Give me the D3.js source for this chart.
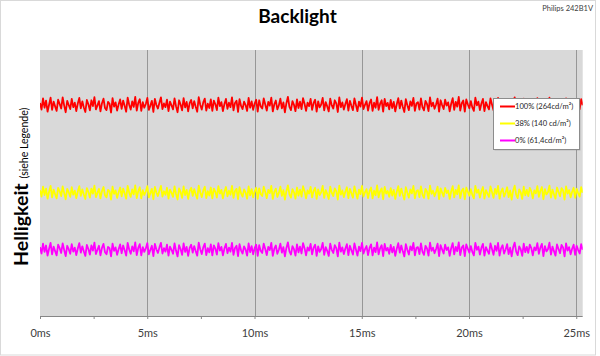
<!DOCTYPE html>
<html><head><meta charset="utf-8">
<script src="https://cdn.jsdelivr.net/npm/d3@7"></script>
<style>html,body{margin:0;padding:0;background:#fff;}svg{display:block;font-family:Lato,"Open Sans",sans-serif;}</style>
</head><body>
<svg id="c" width="600" height="356"></svg>
<script>
const chartTitle = "Backlight";
const modelLabel = "Philips 242B1V";
const yLabelMain = "Helligkeit";
const yLabelSub = "(siehe Legende)";
const xTickValues = [0, 5, 10, 15, 20, 25];
const xMinorTicks = [0, 2.5, 5, 7.5, 10, 12.5, 15, 17.5, 20, 22.5, 25];
const timeSpanMs = 25.3;
const seriesNames = ["100% (264cd/m²)", "38% (140 cd/m²)", "0% (61,4cd/m²)"];
const seriesColors = ["#ff0000", "#ffff00", "#ff00ff"];

const red = [
80.1,77.6,81.8,78.3,81.0,76.8,79.4,82.1,77.5,80.6,78.8,77.1,81.3,79.7,78.0,82.2,79.1,76.6,80.9,79.3,77.8,81.6,78.5,80.2,77.0,79.9,82.0,78.1,80.7,78.4,
76.7,81.2,79.6,77.3,81.1,78.9,82.3,77.7,79.2,80.8,76.9,80.0,81.7,78.2,77.4,80.5,79.8,76.5,81.9,78.7,80.3,77.2,79.5,81.4,77.9,81.0,79.0,76.8,82.1,79.4,
77.6,80.7,78.6,82.4,77.2,80.1,81.5,77.1,80.4,78.3,79.7,82.0,77.5,79.1,80.9,76.7,81.6,79.3,78.0,80.2,82.2,77.8,79.9,78.5,81.3,77.0,80.6,79.2,77.7,81.8,
78.8,76.6,81.1,79.5,77.3,81.9,78.4,80.5,76.9,80.0,81.2,78.1,80.8,78.7,76.8,82.3,79.4,77.6,80.3,81.7,77.2,79.8,78.2,81.4,77.1,81.0,79.6,77.4,82.1,78.9,
80.4,77.0,79.7,81.6,77.9,80.2,78.5,82.2,77.3,80.1,80.9,76.7,81.5,79.0,77.8,80.6,79.3,77.1,82.0,78.3,80.7,77.5,79.9,81.3,76.8,81.1,78.8,78.0,81.8,79.5,
77.2,80.5,79.1,82.1,76.9,79.6,81.0,77.7,79.2,81.7,78.1,80.3,76.6,80.0,82.4,78.6,77.4,80.8,79.4,77.0,81.4,78.2,80.6,77.8,81.9,79.8,77.1,80.2,78.9,81.6,
77.5,80.1,81.3,76.8,80.7,78.4,79.5,82.0,77.3,80.4,78.8,76.9,81.7,79.2,78.0,81.1,79.9,76.7,82.2,78.5,80.3,77.6,79.7,81.5,77.2,80.9,79.0,77.4,81.8,79.3,
77.0,80.6,78.7,82.1,77.8,79.4,80.8,77.2,80.0,81.4,77.1,80.2,78.3,82.3,77.5,79.8,81.1,76.8,81.6,78.9,80.1,77.7,81.2,78.2,80.5,76.9,79.6,81.9,78.1,81.0,
78.6,76.7,81.5,79.2,77.4,80.7,79.0,82.0,77.1,79.9,80.4,77.6,81.8,78.5,77.3,80.9,79.7,77.0,82.2,78.8,80.2,77.9,79.5,81.7,76.8,81.1,79.3,77.8,81.3,79.1,
80.3,76.9,79.8,81.9,77.5,80.5,78.7,82.4,77.2,80.0,81.0,76.8,81.4,79.6,78.1,80.8,78.4,77.1,82.1,79.2,80.6,77.4,79.9,81.6,77.0,80.4,78.9,77.7,81.8,79.5,
77.3,80.9,78.8,82.0,77.0,79.7,81.1,77.8,79.3,81.5,77.6,80.2,76.7,80.1,82.2,78.5,77.2,80.7,79.4,76.9,81.7,78.3,80.5,78.0,81.3,79.8,77.1,80.3,79.0,81.9,
77.7,80.0,81.6,76.8,80.8,78.6,79.4,82.1,77.4,80.6,78.7,77.0,81.4,79.5,77.9,81.0,80.1,76.6,81.8,78.9,80.4,77.5,79.6,81.2,77.3,80.7,79.1,77.8,81.5,79.2
];
const yellow = [
47.3,44.9,48.6,45.5,47.9,44.1,46.7,48.9,44.6,47.5,45.8,44.2,48.2,46.9,45.1,48.7,46.2,43.9,47.8,46.5,44.8,48.4,45.6,47.1,44.3,46.8,48.8,45.2,47.6,45.7,
44.0,48.1,46.6,44.5,47.9,46.0,49.0,44.7,46.3,47.8,44.2,47.0,48.5,45.4,44.6,47.4,46.9,43.8,48.6,45.9,47.2,44.4,46.5,48.3,45.0,47.9,46.1,44.1,48.9,46.4,
44.8,47.6,45.7,49.1,44.3,47.0,48.4,44.2,47.3,45.5,46.8,48.8,44.6,46.2,47.8,43.9,48.5,46.4,45.1,47.2,48.9,44.9,46.9,45.6,48.2,44.1,47.5,46.3,44.8,48.7,
45.9,43.8,48.0,46.6,44.4,48.7,45.5,47.4,44.0,47.0,48.2,45.2,47.7,45.8,44.1,49.0,46.5,44.7,47.2,48.6,44.3,46.9,45.3,48.3,44.2,47.9,46.7,44.5,48.8,46.0,
47.4,44.2,46.8,48.5,45.0,47.1,45.6,48.9,44.4,47.0,47.8,43.9,48.4,46.1,44.9,47.6,46.4,44.1,48.7,45.4,47.7,44.6,46.9,48.2,44.0,48.0,45.9,45.1,48.6,46.6,
44.3,47.4,46.2,48.9,44.0,46.7,47.9,44.8,46.3,48.6,45.2,47.3,43.8,47.0,49.1,45.7,44.5,47.7,46.5,44.1,48.3,45.3,47.5,44.9,48.8,46.9,44.2,47.2,46.0,48.5,
44.6,47.1,48.2,44.0,47.6,45.5,46.6,48.9,44.4,47.3,45.9,44.0,48.6,46.3,45.1,48.0,46.9,43.8,49.0,45.6,47.2,44.7,46.8,48.4,44.3,47.8,46.1,44.5,48.7,46.4,
44.1,47.5,45.8,48.9,44.9,46.5,47.7,44.3,47.0,48.3,44.2,47.1,45.4,49.1,44.6,46.9,48.0,43.9,48.5,46.0,47.0,44.8,48.1,45.3,47.4,44.0,46.7,48.8,45.2,47.9,
45.7,43.8,48.4,46.3,44.5,47.6,46.1,48.9,44.2,47.0,47.3,44.7,48.7,45.6,44.4,47.8,46.8,44.1,49.0,45.9,47.1,45.0,46.6,48.6,43.9,48.0,46.4,44.9,48.2,46.2,
47.2,44.0,46.9,48.8,44.6,47.4,45.8,49.1,44.3,47.1,47.9,43.9,48.3,46.7,45.2,47.7,45.5,44.2,48.9,46.3,47.5,44.5,47.0,48.5,44.1,47.3,46.0,44.8,48.7,46.6,
44.4,47.8,45.9,48.9,44.1,46.8,48.0,44.9,46.4,48.4,44.7,47.1,43.8,47.2,49.0,45.6,44.3,47.6,46.5,44.0,48.6,45.4,47.4,45.1,48.2,46.9,44.2,47.2,46.1,48.8,
44.8,47.1,48.5,43.9,47.7,45.7,46.5,49.0,44.5,47.5,45.8,44.1,48.3,46.6,45.0,48.1,47.2,43.8,48.7,46.0,47.3,44.6,46.7,48.2,44.4,47.8,46.2,44.9,48.4,46.3
];
const magenta = [
25.9,23.5,27.2,24.1,26.5,22.7,25.3,27.5,23.2,26.1,24.4,22.8,26.8,25.5,23.7,27.3,24.8,22.5,26.4,25.1,23.4,27.0,24.2,25.7,22.9,25.4,27.4,23.8,26.2,24.3,
22.6,26.7,25.2,23.1,26.5,24.6,27.6,23.3,24.9,26.4,22.8,25.6,27.1,24.0,23.2,26.0,25.5,22.4,27.2,24.5,25.8,23.0,25.1,26.9,23.6,26.5,24.7,22.7,27.5,25.0,
23.4,26.2,24.3,27.7,22.9,25.6,27.0,22.8,25.9,24.1,25.4,27.4,23.2,24.8,26.4,22.5,27.1,25.0,23.7,25.8,27.5,23.5,25.5,24.2,26.8,22.7,26.1,24.9,23.4,27.3,
24.5,22.4,26.6,25.2,23.0,27.3,24.1,26.0,22.6,25.6,26.8,23.8,26.3,24.4,22.7,27.6,25.1,23.3,25.8,27.2,22.9,25.5,23.9,26.9,22.8,26.5,25.3,23.1,27.4,24.6,
26.0,22.8,25.4,27.1,23.6,25.7,24.2,27.5,23.0,25.6,26.4,22.5,27.0,24.7,23.5,26.2,25.0,22.7,27.3,24.0,26.3,23.2,25.5,26.8,22.6,26.6,24.5,23.7,27.2,25.2,
22.9,26.0,24.8,27.5,22.6,25.3,26.5,23.4,24.9,27.2,23.8,25.9,22.4,25.6,27.7,24.3,23.1,26.3,25.1,22.7,26.9,23.9,26.1,23.5,27.4,25.5,22.8,25.8,24.6,27.1,
23.2,25.7,26.8,22.6,26.2,24.1,25.2,27.5,23.0,25.9,24.5,22.6,27.2,24.9,23.7,26.6,25.5,22.4,27.6,24.2,25.8,23.3,25.4,27.0,22.9,26.4,24.7,23.1,27.3,25.0,
22.7,26.1,24.4,27.5,23.5,25.1,26.3,22.9,25.6,26.9,22.8,25.7,24.0,27.7,23.2,25.5,26.6,22.5,27.1,24.6,25.6,23.4,26.7,23.9,26.0,22.6,25.3,27.4,23.8,26.5,
24.3,22.4,27.0,24.9,23.1,26.2,24.7,27.5,22.8,25.6,25.9,23.3,27.3,24.2,23.0,26.4,25.4,22.7,27.6,24.5,25.7,23.6,25.2,27.2,22.5,26.6,25.0,23.5,26.8,24.8,
25.8,22.6,25.5,27.4,23.2,26.0,24.4,27.7,22.9,25.7,26.5,22.5,26.9,25.3,23.8,26.3,24.1,22.8,27.5,24.9,26.1,23.1,25.6,27.1,22.7,25.9,24.6,23.4,27.3,25.2,
23.0,26.4,24.5,27.5,22.7,25.4,26.6,23.5,25.0,27.0,23.3,25.7,22.4,25.8,27.6,24.2,22.9,26.2,25.1,22.6,27.2,24.0,26.0,23.7,26.8,25.5,22.8,25.8,24.7,27.4,
23.4,25.7,27.1,22.5,26.3,24.3,25.1,27.6,23.1,26.1,24.4,22.7,26.9,25.2,23.6,26.7,25.8,22.4,27.3,24.6,25.9,23.2,25.3,26.8,23.0,26.4,24.8,23.5,27.0,24.9
];
const seriesValues = [red, yellow, magenta];

const svg = d3.select("#c");
const plot = {left: 40, right: 582.7, top: 50, bottom: 316};

svg.append("rect").attr("x",0.5).attr("y",0.5).attr("width",595).attr("height",354.5)
  .attr("fill","#fff").attr("stroke","#d9d9d9");

const x = d3.scaleLinear().domain([0, timeSpanMs]).range([plot.left, plot.right]);
const y = d3.scaleLinear().domain([0, 100]).range([plot.bottom, plot.top]);

svg.append("rect").attr("x",plot.left).attr("y",plot.top)
  .attr("width",plot.right-plot.left).attr("height",plot.bottom-plot.top).attr("fill","#d9d9d9");

// gridlines
svg.append("g").selectAll("line").data(xTickValues.filter(d=>d>0)).join("line")
  .attr("x1",d=>Math.round(x(d))+0.5).attr("x2",d=>Math.round(x(d))+0.5)
  .attr("y1",plot.top).attr("y2",plot.bottom).attr("stroke","#979797").attr("stroke-width",1);

svg.append("defs").append("clipPath").attr("id","clip").append("rect")
  .attr("x",plot.left).attr("y",plot.top).attr("width",plot.right-plot.left).attr("height",plot.bottom-plot.top);

const line = d3.line().x(d=>x(d[0])).y(d=>y(d[1]));
const gLines = svg.append("g").attr("clip-path","url(#clip)");
seriesValues.forEach((vals,k)=>{
  const n = vals.length;
  const pts = vals.map((v,i)=>[i*timeSpanMs/(n-1), v]);
  gLines.append("path").datum(pts).attr("d",line).attr("fill","none")
    .attr("stroke",seriesColors[k]).attr("stroke-width",1.8).attr("stroke-linejoin","round");
});

// x axis
const axis = d3.axisBottom(x).tickValues(xMinorTicks).tickSize(3).tickFormat("");
const gx = svg.append("g").attr("transform",`translate(0,${plot.bottom})`).call(axis);
gx.select(".domain").attr("stroke","#868686").attr("d",`M${plot.left},0.5H${plot.right}`);
gx.selectAll(".tick line").attr("stroke","#868686");
const gxl = svg.append("g").attr("transform",`translate(0,${plot.bottom})`)
  .call(d3.axisBottom(x).tickValues(xTickValues).tickSize(0).tickPadding(13).tickFormat(d=>d+"ms"));
gxl.select(".domain").remove();
gxl.selectAll("text").attr("font-family","Lato, sans-serif").attr("font-size",11).attr("fill","#404040");

// title
svg.append("text").attr("x",297.5).attr("y",23).attr("text-anchor","middle")
  .attr("font-size",19).attr("font-weight","bold").attr("fill","#000").text(chartTitle);
svg.append("text").attr("x",593).attr("y",11).attr("text-anchor","end")
  .attr("font-size",7.5).attr("fill","#404040").text(modelLabel);

// y label
const yl = svg.append("text").attr("transform","translate(28,266) rotate(-90)").attr("fill","#000");
yl.append("tspan").attr("font-size",19.5).attr("font-weight","bold").text(yLabelMain);
yl.append("tspan").attr("font-size",10.5).attr("dx",5).text(yLabelSub);

// legend
const lg = svg.append("g");
lg.append("rect").attr("x",494.5).attr("y",99.5).attr("width",86).attr("height",51).attr("fill","#7f7f7f").attr("opacity",0.35);
lg.append("rect").attr("x",493.5).attr("y",98.5).attr("width",86).attr("height",51)
  .attr("fill","#fff").attr("stroke","#8c8c8c");
const rowsY = [106.5, 123.5, 140.5];
seriesNames.forEach((name,k)=>{
  lg.append("line").attr("x1",500).attr("x2",515).attr("y1",rowsY[k]).attr("y2",rowsY[k])
    .attr("stroke",seriesColors[k]).attr("stroke-width",2);
  lg.append("text").attr("x",515).attr("y",rowsY[k]).attr("dy","0.35em")
    .attr("font-size",7.6).attr("fill","#262626").text(name);
});
</script>
</body></html>
